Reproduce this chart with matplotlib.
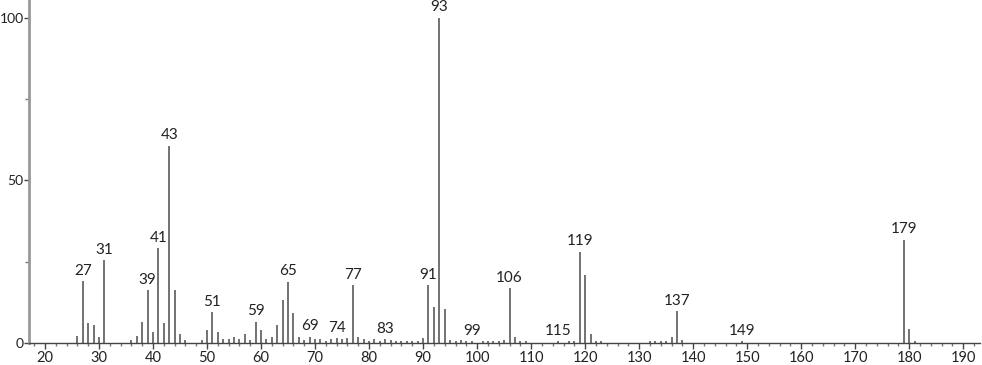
import matplotlib
matplotlib.use("Agg")
import matplotlib.pyplot as plt
from matplotlib.ticker import MultipleLocator

plt.rcParams['font.family'] = ['Lato', 'DejaVu Sans']

mz = [26, 27, 28, 29, 30, 31, 36, 37, 38, 39, 40, 41, 42, 43, 44, 45, 46, 49,
      50, 51, 52, 53, 54, 55, 56, 57, 58, 59, 60, 61, 62, 63, 64, 65, 66, 67,
      68, 69, 70, 71, 72, 73, 74, 75, 76, 77, 78, 79, 80, 81, 82, 83, 84, 85,
      86, 87, 88, 89, 90, 91, 92, 93, 94, 95, 96, 97, 98, 99, 101, 102, 103,
      104, 105, 106, 107, 108, 109, 115, 117, 118, 119, 120, 121, 122, 123,
      132, 133, 134, 135, 136, 137, 138, 149, 179, 180, 181]
intensity = [2.0, 19.0, 6.2, 5.6, 1.8, 25.5, 0.9, 2.0, 6.5, 16.2, 3.4, 29.2,
             6.3, 60.7, 16.3, 2.9, 0.8, 0.8, 4.0, 9.5, 3.4, 1.2, 1.2, 1.8, 1.2,
             2.8, 0.8, 6.5, 4.0, 1.2, 1.7, 5.4, 13.3, 18.9, 9.1, 1.7, 0.8, 1.9,
             1.2, 1.2, 0.6, 1.2, 1.5, 1.3, 1.5, 17.8, 1.8, 1.2, 0.6, 1.2, 0.6,
             1.2, 0.8, 0.6, 0.6, 0.6, 0.6, 0.6, 1.4, 17.8, 11.2, 100.0, 10.6,
             0.8, 0.6, 0.8, 0.6, 0.6, 0.5, 0.5, 0.5, 0.6, 0.8, 16.8, 1.7, 0.6,
             0.6, 0.5, 0.6, 0.6, 28.0, 20.8, 2.9, 0.6, 0.6, 0.6, 0.5, 0.6, 0.5,
             1.8, 9.8, 0.8, 0.6, 31.8, 4.4, 0.5]
labeled = [27, 31, 39, 41, 43, 51, 59, 65, 69, 74, 77, 83, 91, 93, 99, 106,
           115, 119, 137, 149, 179]

W, H = 982, 365
fig = plt.figure(figsize=(W / 100, H / 100), dpi=100)
ax = fig.add_axes([29 / W, 22 / H, (980 - 29) / W, (343 - 0) / H])

ax.vlines(mz, 0, intensity, colors='#5a5a5a', linewidth=1.2)

lookup = dict(zip(mz, intensity))
for m in labeled:
    ax.annotate(str(m), (m, lookup[m]), xytext=(0, 2.5), textcoords='offset points',
                ha='center', va='bottom', fontsize=11, color='#222222')

ax.set_xlim(17.04, 193.1)
ax.set_ylim(0, 105.5)

for s in ['top', 'right']:
    ax.spines[s].set_visible(False)
ax.spines['left'].set_color('#999999')
ax.spines['left'].set_linewidth(2)
ax.spines['bottom'].set_color('#444444')
ax.spines['bottom'].set_linewidth(1)

ax.xaxis.set_major_locator(MultipleLocator(10))
ax.xaxis.set_minor_locator(MultipleLocator(2))
ax.set_xticks(range(20, 191, 10))
ax.yaxis.set_major_locator(MultipleLocator(50))
ax.yaxis.set_minor_locator(MultipleLocator(25))

ax.tick_params(axis='x', which='major', direction='out', length=4.5, width=1,
               color='#444444', labelsize=10.5, pad=1, labelcolor='#222222')
ax.tick_params(axis='x', which='minor', direction='out', length=2.5, width=1,
               color='#777777')
ax.tick_params(axis='y', which='major', direction='out', length=3.5, width=1,
               color='#444444', labelsize=10, pad=0.3, labelcolor='#222222')
ax.tick_params(axis='y', which='minor', direction='out', length=3, width=1,
               color='#777777')

fig.savefig('out.png', dpi=100)
